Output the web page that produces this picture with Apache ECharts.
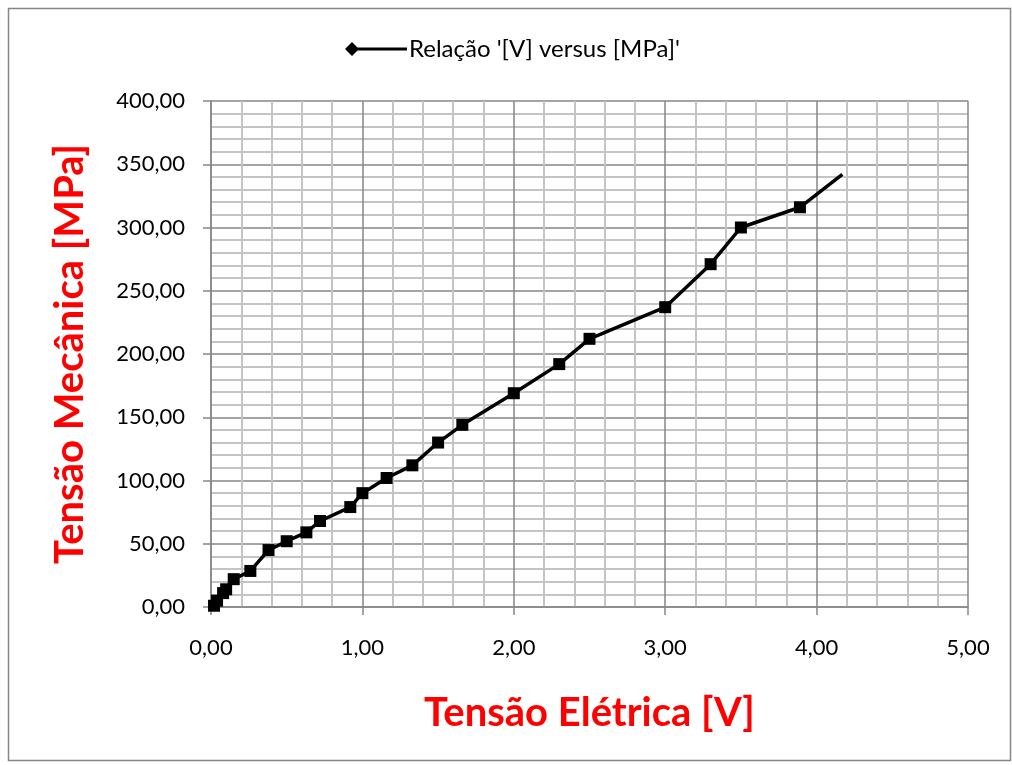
<!DOCTYPE html>
<html>
<head>
<meta charset="utf-8">
<script src="https://cdn.jsdelivr.net/npm/echarts@6/dist/echarts.min.js"></script>
<style>
  html, body { margin: 0; padding: 0; background: #fff; }
  #chart { width: 1012px; height: 765px; }
</style>
</head>
<body>
<div id="chart"></div>
<script>
// Relação tensão elétrica x tensão mecânica
var myChart = echarts.init(document.getElementById('chart'));

var tensaoV = [0.02, 0.04, 0.08, 0.10, 0.15, 0.26, 0.38, 0.50, 0.63, 0.72, 0.92, 1.00, 1.16, 1.33, 1.50, 1.66, 2.00, 2.30, 2.50, 3.00, 3.30, 3.50, 3.89, 4.17];
var tensaoMPa = [1, 5, 11, 14, 22, 28.5, 45, 52, 59, 68, 79, 90, 102, 112, 130, 144, 169, 192, 212, 237, 271, 300, 316, 342];

var pontos = tensaoV.map(function (v, i) {
    var p = { value: [v, tensaoMPa[i]] };
    // ultimo ponto sem marcador
    if (i === tensaoV.length - 1) p.symbol = 'none';
    return p;
});

function virgula(v) {
    return v.toFixed(2).replace('.', ',');
}

var option = {
    animation: false,
    graphic: [{
        type: 'rect',
        shape: { x: 8.5, y: 8.5, width: 1002, height: 752 },
        style: { fill: 'none', stroke: '#868686', lineWidth: 1.5 }
    }],
    legend: {
        top: 32,
        left: 340,
        itemWidth: 62,
        itemHeight: 14,
        itemGap: 6,
        textStyle: { fontFamily: 'Lato', fontSize: 24, color: '#000', padding: [0, 0, 0, -3] },
        data: [{
            name: "Relação '[V] versus [MPa]'",
            icon: 'path://M0,7 L7,0 L14,7 L7,14 Z M7,5.5 L62,5.5 L62,8.5 L7,8.5 Z'
        }]
    },
    grid: { left: 211, top: 101, right: 44, bottom: 158 },
    xAxis: {
        type: 'value',
        min: 0,
        max: 5,
        interval: 1,
        name: 'Tensão Elétrica [V]',
        nameLocation: 'middle',
        nameGap: 86,
        nameTextStyle: { fontFamily: 'Lato', fontWeight: 'bold', fontSize: 40, color: '#ff0000' },
        axisLine: { show: true, lineStyle: { color: '#868686', width: 1.5 } },
        axisTick: { show: true, length: 8, lineStyle: { color: '#868686', width: 1.5 } },
        axisLabel: { formatter: virgula, fontFamily: 'Lato', fontSize: 22, color: '#000', margin: 30 },
        splitLine: { show: true, lineStyle: { color: '#868686', width: 1.5 } },
        minorTick: { show: false, splitNumber: 5 },
        minorSplitLine: { show: true, lineStyle: { color: '#c4c4c4', width: 2 } }
    },
    yAxis: {
        type: 'value',
        min: 0,
        max: 400,
        interval: 50,
        name: 'Tensão Mecânica [MPa]',
        nameLocation: 'middle',
        nameGap: 121,
        nameTextStyle: { fontFamily: 'Lato', fontWeight: 'bold', fontSize: 40, color: '#ff0000' },
        axisLine: { show: true, lineStyle: { color: '#868686', width: 1.5 } },
        axisTick: { show: true, length: 8, lineStyle: { color: '#868686', width: 1.5 } },
        axisLabel: { formatter: virgula, fontFamily: 'Lato', fontSize: 22, color: '#000', margin: 26 },
        splitLine: { show: true, lineStyle: { color: '#868686', width: 1.5 } },
        minorTick: { show: false, splitNumber: 5 },
        minorSplitLine: { show: true, lineStyle: { color: '#c4c4c4', width: 2 } }
    },
    series: [{
        name: "Relação '[V] versus [MPa]'",
        type: 'line',
        data: pontos,
        symbol: 'rect',
        symbolSize: 12,
        itemStyle: { color: '#000' },
        lineStyle: { color: '#000', width: 3.5 }
    }]
};

myChart.setOption(option);
</script>
</body>
</html>
